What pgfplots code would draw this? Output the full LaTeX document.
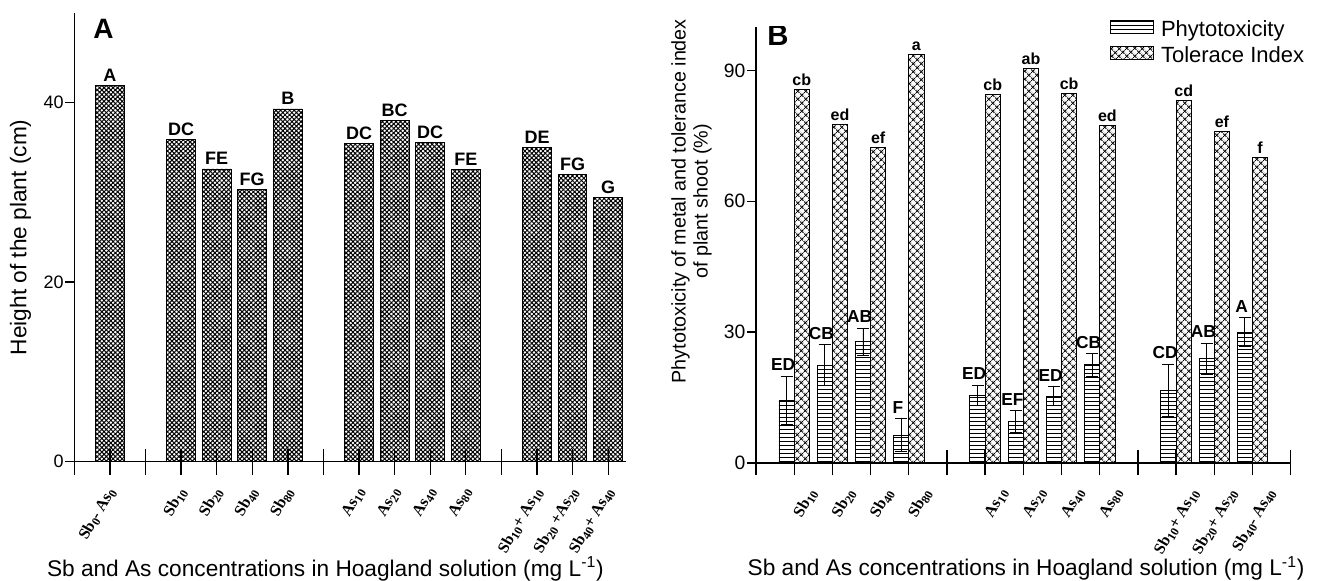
\documentclass[border=0pt]{standalone}
\usepackage{fontspec}
\setmainfont{Liberation Sans}
\newfontfamily\serifb{Liberation Serif}
\usepackage{pgfplots}
\pgfplotsset{compat=1.18}
\usepackage{pgfplotstable}
\usetikzlibrary{patterns.meta}

\newcommand{\sbs}[1]{\raisebox{-0.4ex}{\fontsize{9}{9}\selectfont #1}}

\pgfplotsset{
  mypatch/.style={legend image code/.code={\draw[##1] (0pt,-3pt) rectangle (32pt,7pt);}},
}

% Panel A: height of the plant (cm)
\pgfplotstableread{
x y lab
1 41.94 A
3 35.92 DC
4 32.61 FE
5 30.35 FG
6 39.30 B
8 35.47 DC
9 38.04 BC
10 35.59 DC
11 32.58 FE
13 34.98 DE
14 32.02 FG
15 29.41 G
}\dataA

% Panel B: phytotoxicity (mean, error)
\pgfplotstableread{
x y err lab
0.8 14.4 5.5 ED
1.8 22.4 4.7 CB
2.8 27.8 3.1 AB
3.8 6.4 3.8 F
5.8 15.5 2.4 ED
6.8 9.6 2.5 EF
7.8 15.3 2.2 ED
8.8 22.5 2.6 CB
10.8 16.7 6.0 CD
11.8 23.9 3.6 AB
12.8 30.0 3.3 A
}\phyto

% Panel B: tolerance index
\pgfplotstableread{
x y lab
1.2 85.65 cb
2.2 77.63 ed
3.2 72.43 ef
4.2 93.58 a
6.2 84.51 cb
7.2 90.47 ab
8.2 84.64 cb
9.2 77.31 ed
11.2 83.20 cd
12.2 76.03 ef
13.2 70.07 f
}\tol

\begin{document}
\begin{tikzpicture}
\useasboundingbox (0pt,0pt) rectangle (988.5pt,435.75pt);

% ---------------- Panel A ----------------
\begin{axis}[
  at={(55.7pt,89.6pt)}, anchor=south west,
  width=413.8pt, height=336.4pt, scale only axis,
  xmin=0, xmax=15.5, ymin=0, ymax=50,
  axis x line*=bottom, axis y line*=left,
  axis line style={line width=1pt, black},
  axis on top,
  /pgf/number format/assume math mode=true,
  ytick={0,20,40},
  tick align=outside, major tick length=6.75pt,
  tick style={line width=1pt, black},
  yticklabel style={font=\fontsize{13.5}{13.5}\selectfont, inner sep=1pt},
  xtick=\empty,
  extra x ticks={0,...,15},
  extra x tick labels={{},
    {Sb\sbs{0}- As\sbs{0}},{},
    {Sb\sbs{10}},{Sb\sbs{20}},{Sb\sbs{40}},{Sb\sbs{80}},{},
    {As\sbs{10}},{As\sbs{20}},{As\sbs{40}},{As\sbs{80}},{},
    {Sb\sbs{10}+ As\sbs{10}},{Sb\sbs{20} +As\sbs{20}},{Sb\sbs{40}+ As\sbs{40}}},
  extra x tick style={tick align=center, major tick length=19.5pt,
    tick label style={xshift=1.5pt, yshift=-11pt, rotate=60, anchor=east, inner sep=0pt,
      font=\serifb\bfseries\fontsize{12}{12}\selectfont}},
  xlabel={Sb and As concentrations in Hoagland solution (mg L\textsuperscript{-1})},
  xlabel style={at={(axis description cs:0.455,-0.2553)}, anchor=base, inner sep=0pt,
    font=\fontsize{17}{17}\selectfont},
  ylabel={Height of the plant (cm)},
  ylabel style={at={(axis description cs:-0.0974,0.5)}, anchor=center, inner sep=0pt,
    font=\fontsize{17}{17}\selectfont},
]
\addplot[ybar, bar width=0.806, bar shift=0pt, draw=black, line width=0.7pt,
  pattern={Hatch[angle=45,distance=2.4pt,line width=0.75pt]},
  nodes near coords, point meta=explicit symbolic,
  every node near coord/.append style={anchor=south, inner sep=0pt, yshift=2.7pt,
    font=\bfseries\fontsize{13.5}{13.5}\selectfont}]
  table[x=x, y=y, meta=lab] {\dataA};
\node[anchor=base west, inner sep=0pt, font=\bfseries\fontsize{21}{21}\selectfont]
  at (rel axis cs:0.034,0.944) {A};
\end{axis}

% ---------------- Panel B ----------------
\begin{axis}[
  at={(567pt,88.5pt)}, anchor=south west,
  width=401pt, height=327.2pt, scale only axis,
  xmin=0, xmax=14, ymin=0, ymax=100,
  axis x line*=bottom, axis y line*=left,
  axis line style={line width=1pt, black},
  /pgf/number format/assume math mode=true,
  ytick={0,30,60,90},
  tick align=outside, major tick length=6.75pt,
  tick style={line width=1pt, black},
  yticklabel style={font=\fontsize{14.5}{14.5}\selectfont, inner sep=1pt},
  xtick=\empty,
  extra x ticks={0,...,14},
  extra x tick labels={{},
    {Sb\sbs{10}},{Sb\sbs{20}},{Sb\sbs{40}},{Sb\sbs{80}},{},
    {As\sbs{10}},{As\sbs{20}},{As\sbs{40}},{As\sbs{80}},{},
    {Sb\sbs{10}+ As\sbs{10}},{Sb\sbs{20}+ As\sbs{20}},{Sb\sbs{40}- As\sbs{40}},{}},
  extra x tick style={tick align=center, major tick length=18.75pt,
    tick label style={xshift=14.3pt, yshift=-11pt, rotate=60, anchor=east, inner sep=0pt,
      font=\serifb\bfseries\fontsize{12}{12}\selectfont}},
  xlabel={Sb and As concentrations in Hoagland solution (mg L\textsuperscript{-1})},
  xlabel style={at={(axis description cs:0.505,-0.259)}, anchor=base, inner sep=0pt,
    font=\fontsize{17}{17}\selectfont},
  ylabel={Phytotoxicity of metal and tolerance index\\of plant shoot (\%)},
  ylabel style={at={(axis description cs:-0.1207,0.6)}, anchor=center, inner sep=0pt,
    align=center, font=\fontsize{14.8}{16.5}\selectfont},
  legend style={at={(axis description cs:0.662,1.02)}, anchor=north west,
    draw=none, fill=none, inner sep=0pt, row sep=3.5pt,
    nodes={inner sep=1.5pt}, font=\fontsize{16.5}{16.5}\selectfont},
  legend cell align=left,
]
\addplot[ybar, bar width=0.40, bar shift=0pt, draw=black, line width=0.6pt,
  pattern={Lines[angle=0,distance=3pt,line width=0.5pt]}, mypatch,
  error bars/.cd, y dir=both, y explicit,
  error bar style={line width=0.6pt, black},
  error mark options={rotate=90, black, mark size=4.5pt, line width=0.6pt}]
  table[x=x, y=y, y error=err] {\phyto};
\addlegendentry{\hspace{4pt}Phytotoxicity}
\addplot[ybar, bar width=0.40, bar shift=0pt, draw=black, line width=0.6pt,
  pattern={Hatch[angle=45,distance=4pt,line width=0.65pt]}, mypatch,
  nodes near coords, point meta=explicit symbolic,
  every node near coord/.append style={anchor=south, inner sep=0pt, yshift=2.5pt,
    font=\bfseries\fontsize{12}{12}\selectfont}]
  table[x=x, y=y, meta=lab] {\tol};
\addlegendentry{\hspace{4pt}Tolerace Index}
\addplot[ybar, bar width=0.40, bar shift=0pt, draw=none, fill=none, forget plot,
  nodes near coords, point meta=explicit symbolic,
  every node near coord/.append style={anchor=south, inner sep=0pt, yshift=3.7pt, xshift=-2.5pt,
    font=\bfseries\fontsize{13}{13}\selectfont}]
  table[x=x, y expr=\thisrow{y}+\thisrow{err}, meta=lab] {\phyto};
\node[anchor=base west, inner sep=0pt, font=\bfseries\fontsize{22}{22}\selectfont]
  at (rel axis cs:0.0206,0.958) {B};
\end{axis}
\end{tikzpicture}
\end{document}
